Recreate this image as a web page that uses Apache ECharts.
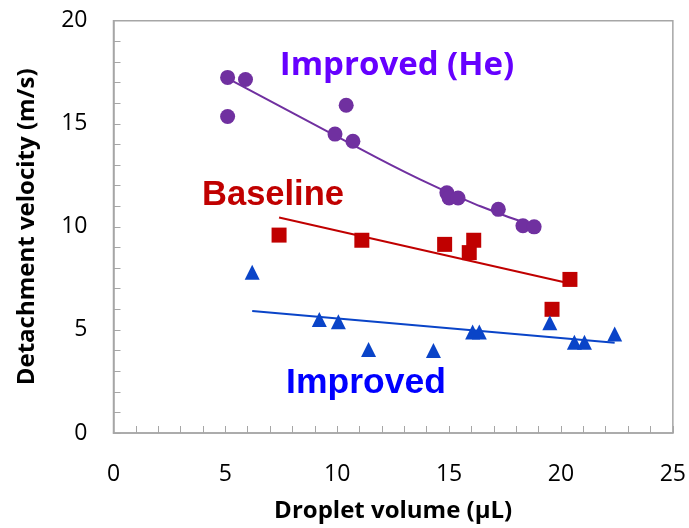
<!DOCTYPE html>
<html>
<head>
<meta charset="utf-8">
<script src="https://cdn.jsdelivr.net/npm/echarts@6/dist/echarts.min.js"></script>
<style>
  html, body { margin: 0; padding: 0; background: #fff; }
  #chart { width: 689px; height: 528px; }
</style>
</head>
<body>
<div id="chart"></div>
<script>
// Detachment velocity vs droplet volume, three gas/needle configurations
const heVolume   = [5.1, 5.9, 5.1, 10.4, 9.9, 10.7, 14.9, 15.0, 15.4, 17.2, 18.3, 18.8];
const heVelocity = [17.25, 17.15, 15.35, 15.9, 14.5, 14.15, 11.65, 11.4, 11.4, 10.85, 10.05, 10.0];

const baseVolume   = [7.4, 11.1, 14.8, 15.9, 16.1, 19.6, 20.4];
const baseVelocity = [9.6, 9.35, 9.15, 8.75, 9.35, 6.0, 7.45];

const impVolume   = [6.2, 9.2, 10.05, 11.4, 14.3, 16.05, 16.35, 19.5, 20.6, 21.05, 22.4];
const impVelocity = [7.8, 5.5, 5.4, 4.05, 4.0, 4.9, 4.9, 5.35, 4.4, 4.4, 4.8];

// trend lines
const heFitVolume   = [5.1, 9.7, 13.7, 16.4, 18.8];
const heFitVelocity = [17.2, 14.55, 12.3, 11.0, 10.05];
const baseFitVolume   = [7.4, 20.4];
const baseFitVelocity = [10.45, 7.25];
const impFitVolume   = [6.2, 22.4];
const impFitVelocity = [5.92, 4.38];

const xTicks = [0, 5, 10, 15, 20, 25];
const yTicks = [0, 5, 10, 15, 20];

const pairs = (xs, ys) => xs.map((x, i) => [x, ys[i]]);

const PURPLE = '#7030A0', RED = '#C00000', BLUE = '#0A44C8';
const FONT = '"Open Sans", sans-serif';

const axisCommon = {
  interval: 5,
  axisLine: { show: true, lineStyle: { color: '#a6a6a6', width: 1.5 } },
  axisTick: { show: true, inside: true, length: 7, lineStyle: { color: '#a6a6a6' } },
  minorTick: { show: true, splitNumber: 5, length: 7, lineStyle: { color: '#a6a6a6' } },
  splitLine: { show: false },
  axisLabel: { color: '#000', fontFamily: FONT, fontSize: 23 },
  nameTextStyle: { color: '#000', fontFamily: FONT, fontSize: 24, fontWeight: 'bold' },
  nameLocation: 'middle'
};

const chart = echarts.init(document.getElementById('chart'), null, { renderer: 'canvas' });
chart.setOption({
  backgroundColor: '#fff',
  animation: false,
  grid: {
    left: 113.5, top: 20.7, right: 15, bottom: 94,
    show: true, borderColor: '#a6a6a6', borderWidth: 1.5, backgroundColor: 'transparent'
  },
  xAxis: Object.assign({}, axisCommon, {
    type: 'value', min: xTicks[0], max: xTicks[xTicks.length - 1],
    name: 'Droplet volume (µL)', nameGap: 66,
    axisLabel: Object.assign({}, axisCommon.axisLabel, { margin: 30 })
  }),
  yAxis: Object.assign({}, axisCommon, {
    type: 'value', min: yTicks[0], max: yTicks[yTicks.length - 1],
    name: 'Detachment velocity (m/s)', nameGap: 74,
    axisLabel: Object.assign({}, axisCommon.axisLabel, { margin: 26 })
  }),
  series: [
    { type: 'line', data: pairs(heFitVolume, heFitVelocity), smooth: true, symbol: 'none',
      lineStyle: { color: PURPLE, width: 2 }, z: 2 },
    { type: 'line', data: pairs(baseFitVolume, baseFitVelocity), symbol: 'none',
      lineStyle: { color: RED, width: 2 }, z: 2 },
    { type: 'line', data: pairs(impFitVolume, impFitVelocity), symbol: 'none',
      lineStyle: { color: BLUE, width: 2 }, z: 2 },
    { type: 'scatter', data: pairs(heVolume, heVelocity), symbol: 'circle', symbolSize: 15,
      itemStyle: { color: PURPLE, opacity: 1 }, z: 3 },
    { type: 'scatter', data: pairs(baseVolume, baseVelocity), symbol: 'rect', symbolSize: 15,
      itemStyle: { color: RED, opacity: 1 }, z: 3 },
    { type: 'scatter', data: pairs(impVolume, impVelocity), symbol: 'triangle', symbolSize: 15,
      itemStyle: { color: BLUE, opacity: 1 }, z: 3 }
  ],
  graphic: [
    { type: 'text', x: 397, y: 66, z: 10,
      style: { text: 'Improved (He)', fill: '#6600FF', font: 'bold 33px "Open Sans", sans-serif',
               align: 'center', verticalAlign: 'middle' } },
    { type: 'text', x: 273, y: 195, z: 10,
      style: { text: 'Baseline', fill: '#C00000', font: 'bold 34.5px "Liberation Sans", Arial, sans-serif',
               align: 'center', verticalAlign: 'middle' } },
    { type: 'text', x: 366, y: 383, z: 10,
      style: { text: 'Improved', fill: '#0000FF', font: 'bold 35.5px "Liberation Sans", Arial, sans-serif',
               align: 'center', verticalAlign: 'middle' } }
  ]
});
</script>
</body>
</html>
